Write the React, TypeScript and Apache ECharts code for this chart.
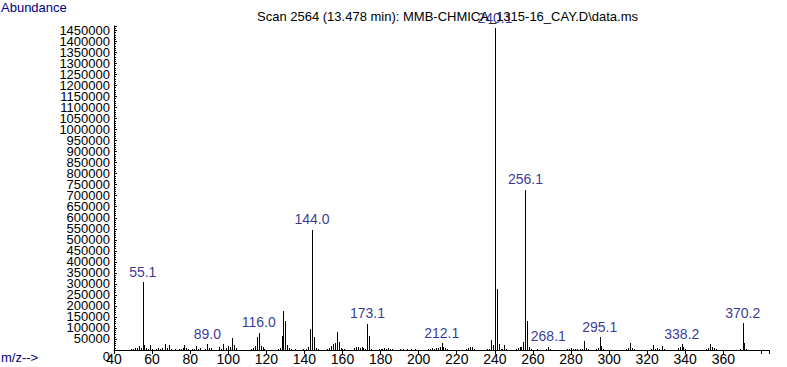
import React, { useEffect, useRef } from "react";
import * as echarts from "echarts";

// m/z values and their abundances
const mzValues: number[] = [
  49, 50, 51, 52, 53, 54, 55.1, 56, 57, 58, 59, 60, 62, 63, 64, 65, 67, 68, 69, 70, 72, 74, 75, 76, 77, 78, 79, 81, 82, 83, 84, 85, 88,
  89.0, 90, 91, 95, 96, 97, 99, 100, 101, 102, 103, 104, 112, 113, 114, 115, 116.0, 117, 118, 119, 126, 127, 128, 129, 130, 131, 132,
  133, 135, 139, 141, 142, 143, 144.0, 145, 146, 147, 152, 153, 154, 155, 156, 157, 158, 159, 160, 161, 166, 167, 168, 169, 170, 171,
  172, 173.1, 174, 175, 179, 180, 181, 182, 183, 184, 185, 186, 190, 192, 194, 196, 198, 205, 206, 207, 208, 209, 210, 211, 212.1,
  213, 214, 215, 225, 226, 227, 228, 229, 236, 237, 238, 239, 240.1, 241, 242, 243, 244, 245, 246, 251, 252, 253, 254, 255, 256.1,
  257, 258, 259, 262, 267, 268.1, 269, 278, 279, 280, 281, 282, 283, 285, 286, 287, 288, 289, 293, 294, 295.1, 296, 297, 309, 310,
  311, 312, 313, 322, 323, 324, 325, 326, 328, 329, 336, 337, 338.2, 339, 340, 351, 352, 353, 354, 355, 356, 369, 370.2, 371, 372,
];
const abundanceValues: number[] = [
  4500, 5000, 7000, 9000, 20000, 9000, 308000, 22000, 9000, 5000, 22000, 5000, 6000, 7000, 5000, 8000, 27000, 9000, 22000, 5000, 6000,
  6000, 5000, 7000, 22000, 9000, 6000, 5000, 6000, 17000, 5000, 8000, 6000,
  27000, 8000, 9000, 13000, 6000, 25000, 8000, 17000, 13000, 53000, 24000, 8000, 4500, 11000, 17000, 58000, 78000, 17000, 13000, 5000,
  4500, 9000, 62000, 178000, 130000, 22000, 9000,
  4500, 4500, 4500, 5000, 13000, 94000, 546000, 58000, 9000, 4500, 4500, 9000, 17000, 26000, 31000, 82000, 35000, 9000, 4500, 4500,
  9000, 13000, 13000, 9000, 13000, 9000,
  4500, 118000, 63000, 5000, 4500, 4500, 4500, 9000, 4500, 9000, 4500, 4500, 4500, 4500, 4500, 4500, 4500, 5000, 4500, 7000, 5000,
  7000, 11000, 14000, 31000,
  14000, 9000, 4500, 4500, 9000, 13000, 13000, 4500, 4500, 5000, 45000, 22000, 1460000, 276000, 27000, 5000, 4500, 22000, 5000, 4500,
  9000, 13000, 14000, 36000, 726000,
  130000, 13000, 4500, 4500, 4500, 14000, 4500, 4500, 5000, 7000, 6000, 5000, 4500, 4500, 5000, 41000, 9000, 4500, 4500, 9000, 58000,
  18000, 4500, 4500, 9000,
  31000, 9000, 4500, 4500, 22000, 4500, 9000, 4500, 18000, 4500, 9000, 13000, 26000, 13000, 4500, 4500, 9000, 27000, 13000, 9000,
  4500, 4500, 122000, 31000, 4500,
];
// peaks that carry an m/z label
const labelledMz: number[] = [55.1, 89.0, 116.0, 144.0, 173.1, 212.1, 240.1, 256.1, 268.1, 295.1, 338.2, 370.2];

const titleText = "Scan 2564 (13.478 min): MMB-CHMICA_1315-16_CAY.D\\data.ms";
const yAxisName = "Abundance";
const xAxisName = "m/z-->";

const NAVY = "#000080";
const FONT = "'Liberation Sans Narrow', 'Liberation Sans', Arial, sans-serif";
const SANS = "'Liberation Sans', Arial, sans-serif";

export default function App() {
  const ref = useRef<HTMLDivElement>(null);

  useEffect(() => {
    if (!ref.current) return;
    const chart = echarts.init(ref.current, null, { renderer: "svg" });
    const peaks = mzValues.map((m, i) => [m, abundanceValues[i]]);
    const labelPeaks = peaks.filter((p) => labelledMz.includes(p[0]));

    chart.setOption({
      animation: false,
      backgroundColor: "#ffffff",
      title: {
        text: titleText,
        left: 252,
        top: 5,
        textStyle: { fontSize: 13, fontWeight: "normal", color: "#000", fontFamily: SANS },
      },
      grid: { left: 114, right: 18, top: 26, bottom: 17, containLabel: false },
      xAxis: {
        type: "value",
        min: 40,
        max: 384,
        interval: 20,
        splitLine: { show: false },
        axisLine: { lineStyle: { color: "#000", width: 1 } },
        axisTick: { show: true, length: 4, lineStyle: { color: "#000" } },
        axisLabel: {
          color: "#000",
          fontSize: 14,
          fontFamily: FONT,
          margin: 2,
          showMinLabel: true,
          formatter: (v: number) => (v % 20 === 0 && v < 380 ? String(v) : ""),
        },
      },
      yAxis: {
        type: "value",
        min: 0,
        max: 1470000,
        interval: 50000,
        splitLine: { show: false },
        axisLine: { show: true, lineStyle: { color: "#000", width: 1 } },
        axisTick: { show: true, inside: true, length: 3, lineStyle: { color: "#000" } },
        minorTick: { show: true, splitNumber: 5, length: 2, lineStyle: { color: "#000" } },
        axisLabel: {
          color: "#000",
          fontSize: 13,
          fontFamily: FONT,
          margin: 4,
          showMinLabel: false,
          formatter: (v: number) => (v <= 1450000 ? String(v) : ""),
        },
      },
      series: [
        {
          type: "custom",
          data: peaks,
          encode: { x: 0, y: 1 },
          renderItem: (params: any, api: any) => {
            const top = api.coord([api.value(0), api.value(1)]);
            const base = api.coord([api.value(0), 0]);
            const x = Math.round(top[0]) + 0.5;
            return {
              type: "line",
              shape: { x1: x, y1: Math.round(base[1]), x2: x, y2: Math.round(top[1]) },
              style: { stroke: "#000", lineWidth: 1 },
            };
          },
          z: 2,
        },
        {
          type: "scatter",
          data: labelPeaks,
          symbolSize: 1,
          itemStyle: { color: "rgba(0,0,0,0)" },
          label: {
            show: true,
            position: "top",
            distance: 3,
            color: NAVY,
            fontSize: 14,
            fontFamily: FONT,
            formatter: (p: any) => Number(p.value[0]).toFixed(1),
          },
          z: 3,
        },
      ],
    });

    // the "0" tick label of the abundance axis, placed through the axis scale
    const zeroY = chart.convertToPixel({ yAxisIndex: 0 }, 0) as number;
    const axisX = chart.convertToPixel({ xAxisIndex: 0 }, 40) as number;
    chart.setOption({
      graphic: [
        {
          type: "text",
          left: 1,
          top: 1,
          style: { text: yAxisName, fill: NAVY, fontSize: 13, fontFamily: SANS },
        },
        {
          type: "text",
          left: 1,
          top: 351,
          style: { text: xAxisName, fill: NAVY, fontSize: 13, fontFamily: SANS },
        },
        {
          type: "text",
          x: axisX - 4,
          y: zeroY + 6,
          style: { text: "0", fill: "#000", fontSize: 13, fontFamily: FONT, align: "right", verticalAlign: "middle" },
        },
      ],
    });
    return () => chart.dispose();
  }, []);

  return <div ref={ref} style={{ position: "absolute", left: 0, top: 0, width: 787, height: 367 }} />;
}
